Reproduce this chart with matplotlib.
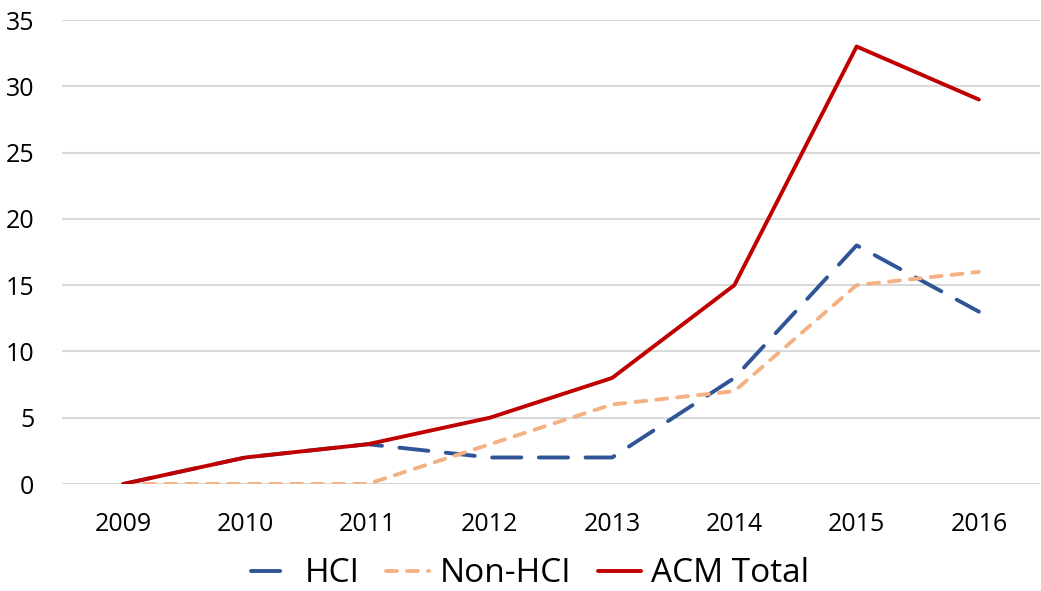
import numpy as np
import matplotlib.pyplot as plt

plt.rcParams['font.family'] = ['Open Sans', 'DejaVu Sans']

years = ['2009', '2010', '2011', '2012', '2013', '2014', '2015', '2016']
hci = [0, 2, 3, 2, 2, 8, 18, 13]
non_hci = [0, 0, 0, 3, 6, 7, 15, 16]
acm_total = [0, 2, 3, 5, 8, 15, 33, 29]

fig = plt.figure(figsize=(10.41, 5.91), dpi=100)
ax = fig.add_axes([62/1041, 1 - 484/591, 978/1041, 464/591])

x = np.arange(len(years))
lw = 2.8
ax.plot(x, hci, color='#2F5597', lw=lw, dashes=(7.5, 4.5),
        dash_capstyle='round', solid_capstyle='round', label='HCI')
ax.plot(x, non_hci, color='#F4B183', lw=lw, dashes=(2.8, 2.6),
        dash_capstyle='round', solid_capstyle='round', label='Non-HCI')
ax.plot(x, acm_total, color='#C00000', lw=lw,
        solid_capstyle='round', label='ACM Total')

ax.set_xlim(-0.5, len(years) - 0.5)
ax.set_ylim(0, 35)
ax.set_yticks(range(0, 36, 5))
ax.set_xticks(x)
ax.set_xticklabels(years)
ax.yaxis.grid(True, color='#D9D9D9', lw=1.5)
ax.set_axisbelow(True)
for s in ax.spines.values():
    s.set_visible(False)
ax.tick_params(axis='both', length=0, labelsize=18, colors='#000000')
ax.tick_params(axis='y', pad=20)
ax.tick_params(axis='x', pad=20)

ax.legend(loc='center', bbox_to_anchor=(530/1041, 17/591),
          bbox_transform=fig.transFigure, ncol=3, frameon=False, fontsize=24,
          handlelength=1.3, handletextpad=0.3, columnspacing=0.8,
          borderpad=0.1)

fig.savefig('out.png', dpi=100)
